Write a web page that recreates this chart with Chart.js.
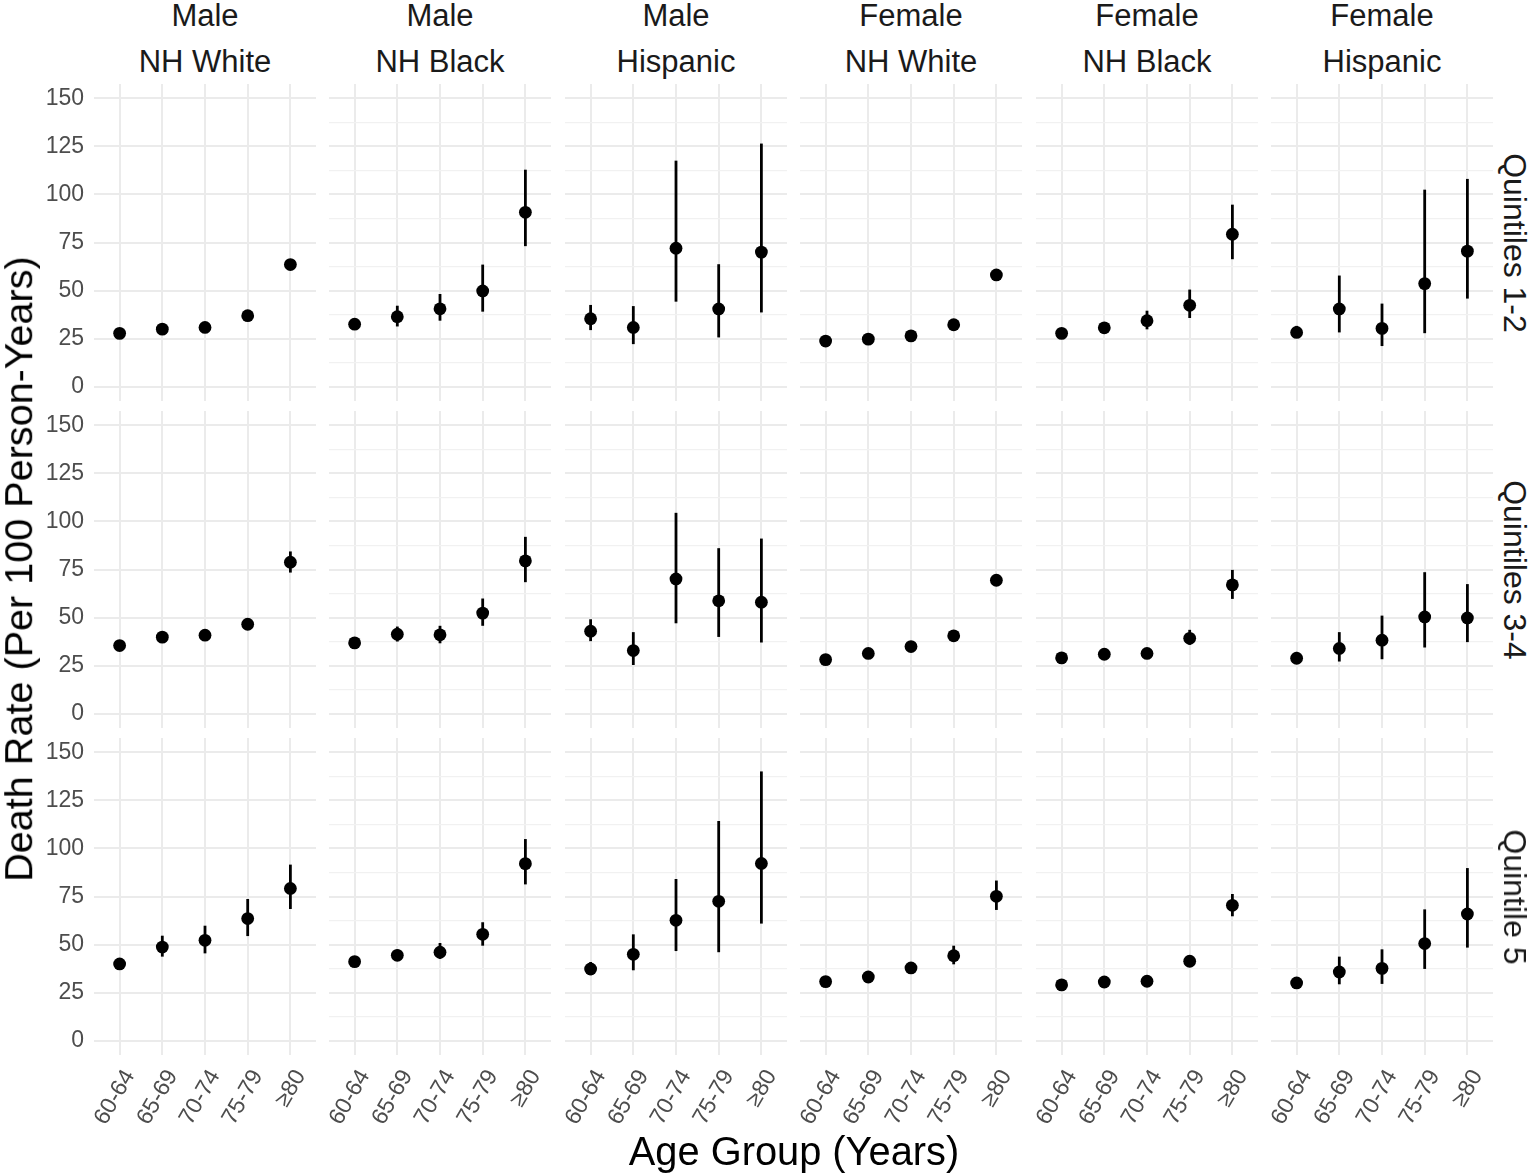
<!DOCTYPE html>
<html>
<head>
<meta charset="utf-8">
<script src="https://cdn.jsdelivr.net/npm/chart.js@4"></script>
<style>
  body { margin: 0; background: #fff; }
  #fig { position: relative; width: 1531px; height: 1174px; font-family: 'Liberation Sans', Arial, sans-serif; }
  .panel { position: absolute; }
  .lbl { position: absolute; white-space: nowrap; line-height: 1; transform-origin: center center; }
</style>
</head>
<body>
<div id="fig"></div>
<script>
// ── Data ─────────────────────────────────────────────────────────
const AGE_GROUPS = ['60-64', '65-69', '70-74', '75-79', '≥80'];
const COL_SEX = ['Male', 'Male', 'Male', 'Female', 'Female', 'Female'];
const COL_RACE = ['NH White', 'NH Black', 'Hispanic', 'NH White', 'NH Black', 'Hispanic'];
const QUINTILES = ['Quintiles 1-2', 'Quintiles 3-4', 'Quintile 5'];
const Y_TICKS = [0, 25, 50, 75, 100, 125, 150];

// death rate per 100 person-years, one list per column (M White, M Black, M Hisp, F White, F Black, F Hisp)
const Q12_RATE = [
  [27.7, 29.9, 30.8, 36.9, 63.5], [32.5, 36.4, 40.5, 49.8, 90.7], [35.3, 30.8, 72.0, 40.4, 70.0],
  [23.7, 24.7, 26.4, 32.2, 58.1], [27.7, 30.6, 34.3, 42.3, 79.3], [28.2, 40.4, 30.3, 53.6, 70.5]
];
const Q12_LOWER = [
  [26.2, 28.3, 29.0, 34.9, 60.8], [30.0, 31.3, 34.3, 39.0, 73.1], [29.4, 22.1, 44.2, 25.6, 38.6],
  [22.4, 23.3, 24.9, 30.4, 55.6], [25.5, 27.8, 29.8, 35.7, 66.3], [25.3, 28.2, 21.1, 27.8, 45.8]
];
const Q12_UPPER = [
  [29.3, 31.6, 32.7, 39.0, 66.3], [35.2, 42.1, 48.2, 63.5, 112.9], [42.5, 41.9, 117.6, 63.7, 126.5],
  [25.0, 26.1, 28.0, 34.1, 60.7], [30.1, 33.6, 39.5, 50.5, 94.7], [31.6, 57.8, 43.2, 102.5, 108.1]
];

const Q34_RATE = [
  [35.4, 39.8, 40.8, 46.5, 78.8], [36.8, 41.3, 41.0, 52.3, 79.5], [42.9, 32.8, 70.1, 58.7, 58.0],
  [28.1, 31.3, 34.9, 40.5, 69.4], [29.0, 30.9, 31.3, 39.2, 67.0], [28.8, 33.9, 38.2, 50.3, 49.8]
];
const Q34_LOWER = [
  [33.9, 38.0, 38.8, 44.2, 73.4], [34.5, 37.5, 36.6, 45.7, 68.4], [37.7, 25.3, 47.0, 39.9, 37.0],
  [26.8, 29.8, 33.2, 38.5, 66.8], [26.8, 28.5, 28.9, 35.8, 59.7], [25.8, 27.1, 28.3, 34.4, 37.2]
];
const Q34_UPPER = [
  [37.0, 41.6, 42.9, 48.9, 84.4], [39.3, 45.3, 45.7, 59.9, 92.0], [49.1, 42.4, 104.5, 86.1, 91.1],
  [29.5, 32.9, 36.7, 42.6, 72.1], [31.4, 33.5, 33.9, 43.6, 74.8], [32.1, 42.4, 51.0, 73.6, 67.4]
];

const Q5_RATE = [
  [39.9, 48.7, 52.2, 63.5, 79.2], [41.1, 44.4, 46.0, 55.3, 92.1], [37.3, 44.9, 62.6, 72.5, 92.2],
  [30.7, 33.1, 37.8, 44.2, 75.1], [29.0, 30.5, 30.9, 41.3, 70.4], [30.0, 35.7, 37.6, 50.5, 65.9]
];
const Q5_LOWER = [
  [37.8, 43.7, 45.4, 54.4, 68.5], [38.8, 41.6, 42.5, 49.4, 81.3], [34.0, 36.6, 46.6, 46.0, 60.9],
  [29.0, 31.3, 35.6, 39.7, 68.0], [27.0, 28.3, 28.6, 38.5, 64.7], [27.2, 29.3, 29.5, 37.3, 48.4]
];
const Q5_UPPER = [
  [42.1, 54.6, 59.8, 73.7, 91.6], [43.5, 47.4, 50.8, 61.6, 104.9], [40.9, 55.3, 84.1, 114.3, 140.1],
  [32.5, 35.0, 40.1, 49.4, 83.3], [31.1, 32.8, 33.3, 44.3, 76.3], [33.1, 43.7, 47.5, 68.3, 89.8]
];

const ROWS = [
  { rate: Q12_RATE, lower: Q12_LOWER, upper: Q12_UPPER },
  { rate: Q34_RATE, lower: Q34_LOWER, upper: Q34_UPPER },
  { rate: Q5_RATE, lower: Q5_LOWER, upper: Q5_UPPER }
];

// ── Layout ───────────────────────────────────────────────────────
const FONT = "'Liberation Sans', Arial, sans-serif";
const PANEL_W = 222, PANEL_H = 317;
const PANEL_LEFT = [94, 329, 565, 800, 1036, 1271];
const PANEL_TOP = [84, 411, 738];
const Y_AXIS_W = 70, X_AXIS_H = 90, LABEL_ROOM = 40;

// error bars drawn under the points
const errorBars = {
  id: 'errorBars',
  beforeDatasetsDraw(chart, args, opts) {
    const { ctx, scales: { x, y } } = chart;
    ctx.save();
    ctx.strokeStyle = '#000';
    ctx.lineWidth = 2.8;
    opts.lower.forEach((lo, i) => {
      const px = x.getPixelForValue(i);
      ctx.beginPath();
      ctx.moveTo(px, y.getPixelForValue(lo));
      ctx.lineTo(px, y.getPixelForValue(opts.upper[i]));
      ctx.stroke();
    });
    ctx.restore();
  }
};

const fig = document.getElementById('fig');

const addLabel = (text, cx, cy, size, color, rot) => {
  const d = document.createElement('div');
  d.className = 'lbl';
  d.textContent = text;
  d.style.fontSize = size + 'px';
  d.style.color = color;
  d.style.left = cx + 'px';
  d.style.top = cy + 'px';
  d.style.transform = `translate(-50%, -50%) rotate(${rot || 0}deg)`;
  fig.appendChild(d);
};

const minorTicks = [];
for (let i = 0; i < Y_TICKS.length; i++) {
  minorTicks.push(Y_TICKS[i]);
  if (i < Y_TICKS.length - 1) minorTicks.push((Y_TICKS[i] + Y_TICKS[i + 1]) / 2);
}

ROWS.forEach((row, r) => {
  COL_SEX.forEach((_, c) => {
    const isLeft = c === 0, isBottom = r === ROWS.length - 1;
    // left-column panels carry the y axis; bottom panels get room on the left for rotated labels
    const leftRoom = isLeft ? Y_AXIS_W : (isBottom ? LABEL_ROOM : 0);
    const w = PANEL_W + leftRoom + (isBottom ? 14 : 0);
    const h = PANEL_H + (isBottom ? X_AXIS_H : 0);
    const div = document.createElement('div');
    div.className = 'panel';
    div.style.left = (PANEL_LEFT[c] - leftRoom) + 'px';
    div.style.top = PANEL_TOP[r] + 'px';
    const cv = document.createElement('canvas');
    cv.width = w; cv.height = h;
    cv.style.width = w + 'px'; cv.style.height = h + 'px';
    div.appendChild(cv);
    fig.appendChild(div);

    new Chart(cv, {
      type: 'scatter',
      data: {
        datasets: [{
          data: row.rate[c].map((v, i) => ({ x: i, y: v })),
          pointRadius: 6.4,
          pointBackgroundColor: '#000',
          pointBorderWidth: 0,
          clip: false
        }]
      },
      options: {
        responsive: false,
        animation: false,
        layout: {
          autoPadding: false,
          padding: { left: isLeft ? 0 : leftRoom, top: 0, right: isBottom ? 14 : 0, bottom: 0 }
        },
        plugins: {
          legend: { display: false },
          tooltip: { enabled: false },
          errorBars: { lower: row.lower[c], upper: row.upper[c] }
        },
        scales: {
          x: {
            type: 'linear', min: -0.6, max: AGE_GROUPS.length - 0.4,
            afterBuildTicks: s => { s.ticks = AGE_GROUPS.map((_, i) => ({ value: i })); },
            afterFit: s => { s.height = isBottom ? X_AXIS_H : 0; s.paddingLeft = 0; s.paddingRight = 0; },
            border: { display: false },
            grid: { color: '#ebebeb', lineWidth: 2, drawTicks: false },
            ticks: {
              display: isBottom, autoSkip: false, minRotation: 60, maxRotation: 60,
              padding: 10, labelOffset: 10,
              color: '#4d4d4d', font: { family: FONT, size: 23 },
              callback: v => AGE_GROUPS[v]
            }
          },
          y: {
            min: -7.5, max: 157.5,
            afterBuildTicks: s => { s.ticks = minorTicks.map(v => ({ value: v })); },
            afterFit: s => { s.width = isLeft ? Y_AXIS_W : 0; s.paddingTop = 0; s.paddingBottom = 0; },
            border: { display: false },
            grid: {
              drawTicks: false,
              color: ctx => Y_TICKS.includes(ctx.tick.value) ? '#ebebeb' : '#f1f1f1',
              lineWidth: ctx => Y_TICKS.includes(ctx.tick.value) ? 2 : 1.3
            },
            ticks: {
              display: isLeft, padding: 10, color: '#4d4d4d', font: { family: FONT, size: 23 },
              callback: v => Y_TICKS.includes(v) ? String(v) : ''
            }
          }
        }
      },
      plugins: [errorBars]
    });
  });
});

// ── Strips and titles ────────────────────────────────────────────
COL_SEX.forEach((sex, c) => {
  const cx = PANEL_LEFT[c] + PANEL_W / 2;
  addLabel(sex, cx, 15, 31, '#1a1a1a');
  addLabel(COL_RACE[c], cx, 61, 31, '#1a1a1a');
});
QUINTILES.forEach((q, r) => addLabel(q, 1515, PANEL_TOP[r] + PANEL_H / 2, 32, '#1a1a1a', 90));
addLabel('Death Rate (Per 100 Person-Years)', 19, 569, 39.6, '#000', -90);
addLabel('Age Group (Years)', 794, 1152, 39.8, '#000');
</script>
</body>
</html>
